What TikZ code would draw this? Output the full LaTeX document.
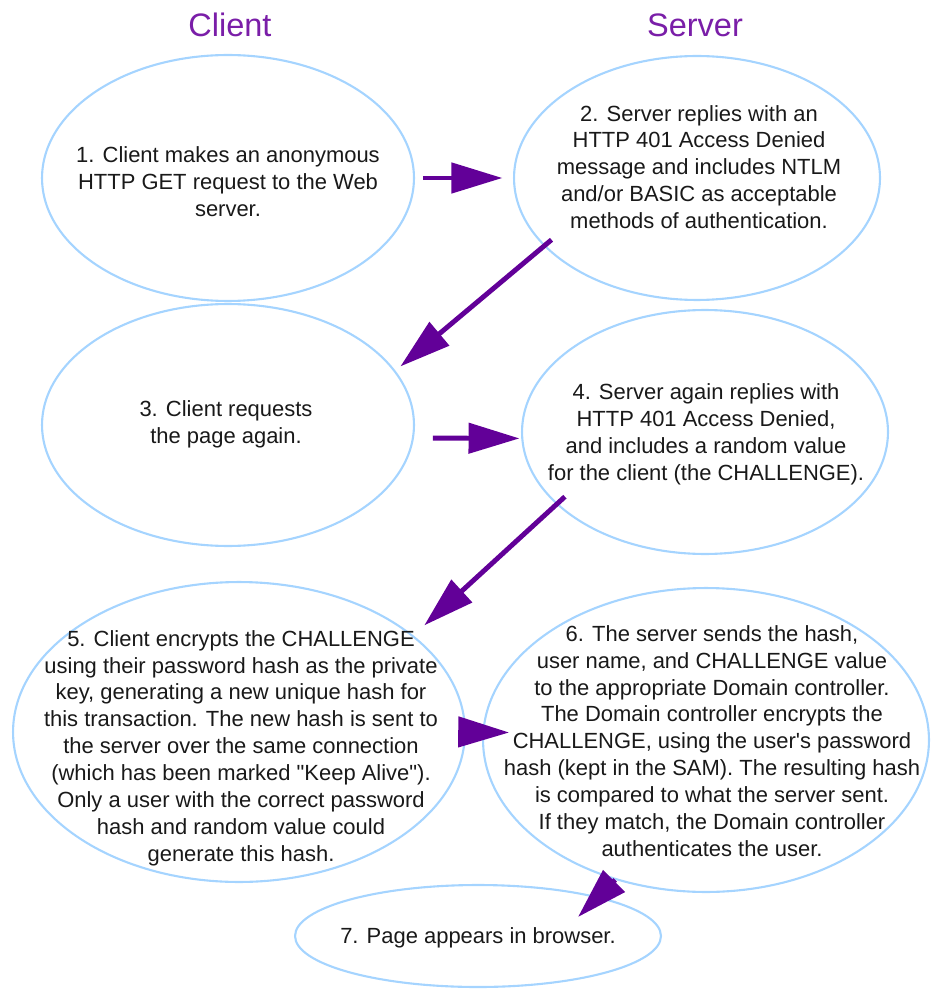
\documentclass[tikz,border=0pt]{standalone}
\usepackage{fontspec}
\setmainfont{Liberation Sans}
\usepackage{tikz}
\usetikzlibrary{arrows.meta}
\usetikzlibrary{shapes}
\usetikzlibrary{calc}
\definecolor{bubbleblue}{RGB}{165,212,255}
\definecolor{flowpurple}{RGB}{98,0,152}
\definecolor{titlepurple}{RGB}{122,30,168}
\tikzstyle{bubble} = [ellipse, draw = bubbleblue, line width = 1.2pt, inner sep = 0]
\tikzstyle{step text} = [align = center, font = \fontsize{12.5}{15.3}\selectfont, text = black!90]
\tikzstyle{side title} = [font = \fontsize{18.5}{22}\selectfont, text = titlepurple]
\tikzstyle{flow} = [draw = flowpurple, line width = 2.8pt, -{Triangle[length = 29pt, width = 17pt]}]
\tikzstyle{diagram picture} = [x = .02cm, y = -.02cm]

\begin{document}
\begin{tikzpicture}[diagram picture]
    \useasboundingbox (0, 0) rectangle (934, 989);

    \node [side title] (client) at (230, 25) {Client};
    \node [side title] (server) at (695, 25) {Server};

    % the seven steps: number / centre / size
    \foreach \n/\x/\y/\w/\h in {1/228/178/7.44/4.92, 2/697/178/7.32/4.88,
                                3/228/425/7.44/4.84, 4/705/432/7.32/4.88,
                                5/239/732/9.04/6.00, 6/706/740/8.92/6.08,
                                7/478/936/7.32/2.04}
    {
        \node [bubble, minimum width = \w cm, minimum height = \h cm] (step_\n) at (\x, \y) {};
    }

    \node [step text] (text_1) at (228, 182) {1. Client makes an anonymous\\HTTP GET request to the Web\\server.};
    \node [step text] (text_2) at (699, 167) {2. Server replies with an\\HTTP 401 Access Denied\\message and includes NTLM\\and/or BASIC as acceptable\\methods of authentication.};
    \node [step text] (text_3) at (226, 424) {3. Client requests\\the page again.};
    \node [step text] (text_4) at (706, 434) {4. Server again replies with\\HTTP 401 Access Denied,\\and includes a random value\\for the client (the CHALLENGE).};
    \node [step text] (text_5) at (241, 748) {5. Client encrypts the CHALLENGE\\using their password hash as the private\\key, generating a new unique hash for\\this transaction. The new hash is sent to\\the server over the same connection\\(which has been marked \textquotedbl Keep Alive\textquotedbl).\\Only a user with the correct password\\hash and random value could\\generate this hash.};
    \node [step text] (text_6) at (712, 741) {6. The server sends the hash,\\user name, and CHALLENGE value\\to the appropriate Domain controller.\\The Domain controller encrypts the\\CHALLENGE, using the user\textquotesingle s password\\hash (kept in the SAM). The resulting hash\\is compared to what the server sent.\\If they match, the Domain controller\\authenticates the user.};
    \node [step text] (text_7) at (478, 938) {7. Page appears in browser.};

    \draw [flow, shorten <= 4.5pt, shorten >= 6pt] (step_1.east) -- (step_2.west);
    \draw [flow, shorten <= -5.7pt, shorten >= 3.7pt] (step_2.204.5) -- (step_3.18.7);
    \draw [flow, shorten <= 10.8pt, shorten >= 1pt] (step_3.-4) -- (step_4.182);
    \draw [flow, shorten <= -6.6pt, shorten >= 8.4pt] (step_4.206.6) -- (step_5.29.5);
    \draw [flow, shorten <= -9.6pt, shorten >= -15.3pt] (step_5.0) -- (step_6.178);
    \coordinate (tip_7) at ($(step_7.center) + (100, -19)$);
    \draw [flow] (step_6.237) -- (tip_7);
\end{tikzpicture}
\end{document}
